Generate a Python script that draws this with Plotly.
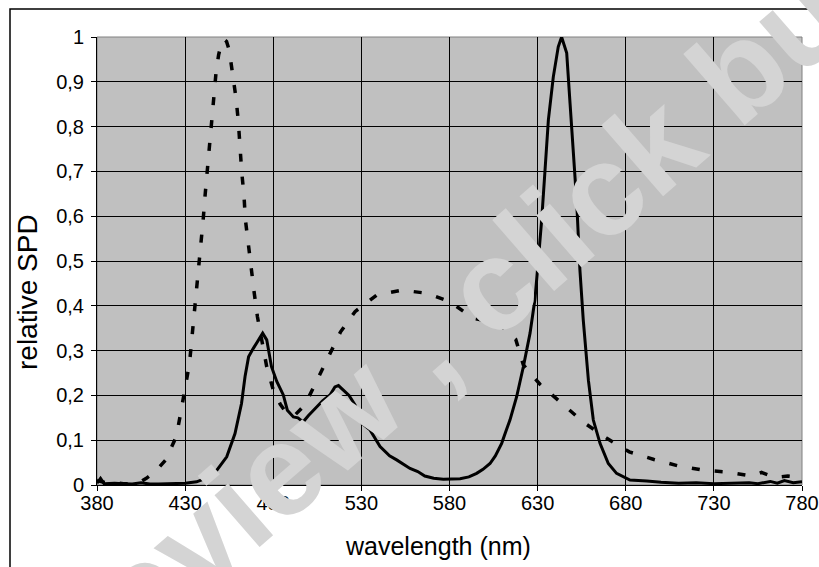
import plotly.graph_objects as go

# dashed series (blue LED + phosphor)
wl_dashed = [380, 385, 390, 395, 400, 405, 408, 413, 419, 425, 427.5, 430, 432.5, 435, 436.5, 438,
             439, 440.3, 441.4, 442.6, 443.5, 444.7, 446, 447.5, 449, 450.5, 452, 453.5, 455, 457,
             458.9, 460.2, 461.1, 462.1, 463.4, 464.2, 465.8, 467.4, 469.1, 471, 473.4, 476.3, 480,
             484, 487.6, 492, 498, 504.6, 511.8, 518.2, 526.4, 538.7, 552.9, 567, 580.3, 593.5,
             607.3, 617.6, 621.9, 631.3, 643.6, 656, 669, 682, 696, 709.5, 724, 737.3, 751.4, 757,
             764.7, 772, 778.5, 780]
spd_dashed = [0.01, 0.005, 0.005, 0.003, 0.003, 0.008, 0.015, 0.03, 0.056, 0.108, 0.161, 0.216, 0.272,
              0.376, 0.435, 0.487, 0.542, 0.595, 0.65, 0.703, 0.759, 0.811, 0.867, 0.919, 0.96, 0.985,
              0.995, 0.99, 0.971, 0.915, 0.863, 0.811, 0.755, 0.699, 0.646, 0.592, 0.54, 0.484, 0.432,
              0.376, 0.32, 0.264, 0.212, 0.18, 0.16, 0.155, 0.179, 0.234, 0.29, 0.342, 0.387, 0.424,
              0.435, 0.428, 0.409, 0.372, 0.362, 0.325, 0.268, 0.225, 0.182, 0.14, 0.105, 0.074, 0.057,
              0.043, 0.033, 0.029, 0.02, 0.028, 0.017, 0.02, 0.017, 0.015]

# solid series (RGB-type LED)
wl_solid = [380, 382, 384, 390, 395, 400, 405, 410, 415, 420, 425, 430, 436.5, 442, 448, 453.6, 458.3,
            462, 464, 466, 468.7, 471, 474, 476.3, 479, 482, 485.7, 488, 491.4, 494, 497, 500, 504.6,
            508, 512.2, 515, 517, 520, 523, 526.4, 530.2, 534.9, 540.6, 546, 550, 557.6, 562, 566,
            571, 576.5, 586, 591, 595.4, 599, 603, 606, 609.6, 612, 614.3, 618.1, 621.9, 625.7,
            628.5, 630.4, 632.3, 634.2, 636.1, 638.9, 641.7, 643.6, 646.5, 648.4, 650.2, 652.2, 654,
            655.9, 658.8, 661.6, 665.4, 670.1, 674.8, 682.4, 691.9, 700, 710, 720, 730, 740, 750,
            755, 762, 766, 770, 775, 780]
spd_solid = [0.004, 0.015, 0.003, 0.004, 0.003, 0.002, 0.005, 0.002, 0.002, 0.003, 0.003, 0.004, 0.007,
             0.015, 0.033, 0.063, 0.115, 0.182, 0.242, 0.286, 0.305, 0.32, 0.339, 0.324, 0.264, 0.231,
             0.201, 0.167, 0.152, 0.15, 0.141, 0.155, 0.175, 0.188, 0.201, 0.219, 0.222, 0.21, 0.2,
             0.179, 0.138, 0.123, 0.086, 0.065, 0.056, 0.037, 0.03, 0.02, 0.015, 0.013, 0.014, 0.018,
             0.026, 0.035, 0.048, 0.065, 0.093, 0.12, 0.145, 0.197, 0.264, 0.339, 0.415, 0.502, 0.592,
             0.703, 0.815, 0.911, 0.978, 1.0, 0.964, 0.852, 0.74, 0.629, 0.48, 0.368, 0.234, 0.145,
             0.093, 0.048, 0.026, 0.011, 0.009, 0.006, 0.004, 0.005, 0.003, 0.004, 0.005, 0.003, 0.008,
             0.004, 0.01, 0.005, 0.007]

x_ticks = [380, 430, 480, 530, 580, 630, 680, 730, 780]
y_ticks = [0, 0.1, 0.2, 0.3, 0.4, 0.5, 0.6, 0.7, 0.8, 0.9, 1]
y_tick_labels = ["0", "0,1", "0,2", "0,3", "0,4", "0,5", "0,6", "0,7", "0,8", "0,9", "1"]

FONT = "Liberation Sans, Arial, sans-serif"

# plot area in window pixels
L, R, T, B = 97, 802, 37, 485
W, H = 819, 567


def px(xp):
    return (xp - L) / (R - L)


def py(yp):
    return (B - yp) / (B - T)


fig = go.Figure()
fig.add_trace(go.Scatter(x=wl_dashed, y=spd_dashed, mode="lines",
                         line=dict(color="black", width=3.5, dash="8px,15px"),
                         showlegend=False))
fig.add_trace(go.Scatter(x=wl_solid, y=spd_solid, mode="lines",
                         line=dict(color="black", width=3),
                         showlegend=False))

fig.update_layout(
    width=W, height=H,
    margin=dict(l=L, r=W - R, t=T, b=H - B, autoexpand=False),
    paper_bgcolor="white",
    plot_bgcolor="#c0c0c0",
    font=dict(family=FONT, color="black"),
    xaxis=dict(range=[380, 780], tickvals=x_ticks, ticktext=[str(v) for v in x_ticks],
               showgrid=True, gridcolor="black", gridwidth=1, zeroline=False,
               showline=True, linecolor="black", linewidth=1, automargin=False,
               ticks="outside", ticklen=5, tickcolor="black", ticklabelstandoff=-5,
               tickfont=dict(size=20, family=FONT)),
    yaxis=dict(range=[0, 1], tickvals=y_ticks, ticktext=y_tick_labels,
               showgrid=True, gridcolor="black", gridwidth=1, zeroline=False,
               showline=True, linecolor="black", linewidth=1, automargin=False,
               ticks="outside", ticklen=5, tickcolor="black", ticklabelstandoff=3,
               tickfont=dict(size=20, family=FONT)),
    shapes=[
        dict(type="rect", xref="paper", yref="paper", x0=0, x1=1, y0=0, y1=1,
             line=dict(color="#808080", width=1), layer="below"),
        dict(type="rect", xref="paper", yref="paper",
             x0=px(10), x1=px(830), y0=py(600), y1=py(9),
             line=dict(color="black", width=1.5)),
    ],
    annotations=[
        dict(text="wavelength (nm)", xref="paper", yref="paper", x=px(438), y=py(546),
             showarrow=False, xanchor="center", yanchor="middle",
             font=dict(size=25, family=FONT, color="black")),
        dict(text="relative SPD", xref="paper", yref="paper", x=px(27), y=py(292),
             showarrow=False, xanchor="center", yanchor="middle", textangle=-90,
             font=dict(size=28, family=FONT, color="black")),
        dict(text="<b>preview , click buy</b>", xref="paper", yref="paper",
             x=px(450), y=py(322), showarrow=False,
             textangle=-41, font=dict(size=130, family=FONT, color="#d4d4d4"),
             xanchor="center", yanchor="middle"),
    ],
)

fig.write_html("out.html", config={"displayModeBar": False},
               post_script="document.body.style.margin='0';document.body.style.overflow='hidden';")
